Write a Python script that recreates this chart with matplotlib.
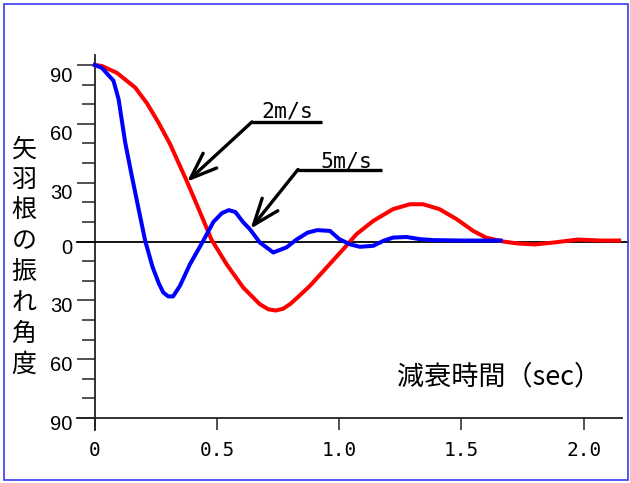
import numpy as np
import matplotlib
matplotlib.use('Agg')
import matplotlib.pyplot as plt
from matplotlib.patches import Rectangle
from matplotlib.transforms import ScaledTranslation

plt.rcParams['font.family'] = ['Liberation Sans', 'Noto Sans CJK JP']

# 風速 2m/s の減衰（赤）
red_t = [0, 0.029, 0.09, 0.165, 0.213, 0.26, 0.308, 0.377, 0.43, 0.477, 0.539,
         0.607, 0.675, 0.71, 0.74, 0.77, 0.80, 0.839, 0.88, 0.95, 1.023, 1.07,
         1.139, 1.22, 1.289, 1.343, 1.41, 1.48, 1.548, 1.60, 1.67, 1.73, 1.80,
         1.88, 1.975, 2.07, 2.145]
red_a = [90, 89.5, 86, 78.5, 70.5, 60.7, 49.6, 30.5, 15, 1, -11.6,
         -23.5, -32, -34.6, -35.2, -34.3, -31.8, -27.4, -22.6, -13, -3, 3.7,
         10.5, 16.5, 19, 19, 16.5, 11.4, 5.4, 2, 0, -1, -1.5,
         -0.5, 1, 0.5, 0.5]

# 風速 5m/s の減衰（青）
blue_t = [0, 0.029, 0.076, 0.097, 0.124, 0.151, 0.179, 0.206, 0.236, 0.262,
          0.28, 0.3, 0.32, 0.348, 0.389, 0.443, 0.485, 0.52, 0.548, 0.575,
          0.607, 0.634, 0.675, 0.73, 0.784, 0.825, 0.87, 0.91, 0.962, 1.0,
          1.043, 1.084, 1.139, 1.18, 1.22, 1.275, 1.33, 1.385, 1.5, 1.66]
blue_a = [90, 88.5, 82, 72.6, 50.5, 33.5, 16.5, 0.3, -13, -21.5,
          -26, -28, -28, -22.6, -11.6, 0.3, 10, 14.5, 16, 15,
          9.8, 6.3, -0.5, -5.6, -3, 1, 4.5, 5.8, 5.4, 1.2,
          -1.4, -2.7, -2.2, 0.3, 2, 2.3, 1.2, 0.7, 0.5, 0.5]

xticks = [0, 0.5, 1.0, 1.5, 2.0]
xticklabels = ['0', '0.5', '1.0', '1.5', '2.0']
yticks = [-90, -60, -30, 0, 30, 60, 90]
yticklabels = ['90', '60', '30', '0', '30', '60', '90']
yminor = [-80, -70, -50, -40, -20, -10, 10, 20, 40, 50, 70, 80]

fig = plt.figure(figsize=(6.3, 4.83), dpi=100)
ax = fig.add_axes([0.1506, 0.1346, 0.836, 0.7308])
ax.set_xlim(0, 2.155)
ax.set_ylim(-90, 90)
for s in ax.spines.values():
    s.set_visible(False)

axc = '#222222'
ax.axvline(0, ymin=-0.034, ymax=1.028, color=axc, lw=1.3, clip_on=False)
ax.axhline(-90, xmin=-0.034, xmax=1.0, color=axc, lw=1.3, clip_on=False)
ax.axhline(0, xmin=-0.034, xmax=1.013, color='black', lw=1.3, clip_on=False)

ax.plot(red_t, red_a, color='#ff0000', lw=2.9, solid_joinstyle='round', clip_on=False)
ax.plot(blue_t, blue_a, color='#0000ff', lw=2.9, solid_joinstyle='round', clip_on=False)

ax.set_xticks(xticks)
ax.set_xticklabels(xticklabels, family='DejaVu Sans Mono', fontsize=14)
ax.set_yticks(yticks)
ax.set_yticklabels(yticklabels, fontsize=14.5)
ax.set_yticks(yminor, minor=True)
ax.tick_params(axis='x', length=8.6, width=1.1, color=axc, pad=8, direction='out')
ax.tick_params(axis='y', which='major', length=13, width=1.1, color=axc, pad=3)
ax.tick_params(axis='y', which='minor', length=9.4, width=1.1, color=axc)

# 注記
arrow = dict(arrowstyle='->,head_length=1.9,head_width=0.72', lw=2.4,
             color='black', shrinkA=0, shrinkB=0, mutation_scale=10)
ax.annotate('', xy=(0.377, 30.5), xytext=(0.643, 61), arrowprops=arrow)
ax.plot([0.643, 0.929], [61, 61], color='black', lw=2.4, solid_capstyle='butt')
ax.text(0.683, 63.3, '2m/s', family='DejaVu Sans Mono', fontsize=15.5, va='baseline')

ax.annotate('', xy=(0.637, 6.5), xytext=(0.831, 36.7), arrowprops=arrow)
ax.plot([0.831, 1.174], [36.7, 36.7], color='black', lw=2.4, solid_capstyle='butt')
ax.text(0.921, 37.9, '5m/s', family='DejaVu Sans Mono', fontsize=15.5, va='baseline')

ax.text(1.236, -69.2, '減衰時間（sec）', family='Noto Sans CJK JP', fontsize=19.5,
        va='center', ha='left')

fig.text(24 / 630, 1 - 257 / 483, '\n'.join('矢羽根の振れ角度'), family='Noto Sans CJK JP',
         fontsize=18, ha='center', va='center', linespacing=1.24)

fig.patches.append(Rectangle((4 / 630, 3 / 483), 624 / 630, 476 / 483,
                             transform=fig.transFigure, fill=False,
                             ec='#3a3af5', lw=1.2))

# 目盛ラベルを少し下へずらす
for v, lab in zip(yticks, ax.get_yticklabels()):
    dy = 9 if v > 0 else 4.5
    lab.set_transform(lab.get_transform() + ScaledTranslation(0, -dy / 100, fig.dpi_scale_trans))

fig.savefig('out.png', dpi=100)
